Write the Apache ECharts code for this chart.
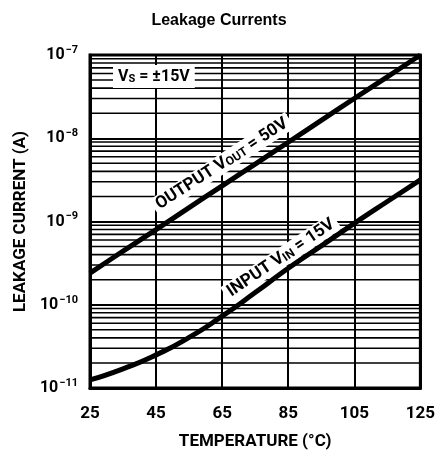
<!DOCTYPE html>
<html>
<head>
<meta charset="utf-8">
<script src="https://cdn.jsdelivr.net/npm/echarts@6/dist/echarts.min.js"></script>
<style>
  html, body { margin: 0; padding: 0; background: #fff; }
  #main { width: 438px; height: 456px; }
</style>
</head>
<body>
<div id="main"></div>
<script>
// temperature (°C)
const temps = [25, 35, 45, 55, 65, 75, 85, 95, 105, 115, 125];
// leakage current (A)
const outputLeak = [2.4e-10, 4.4e-10, 8.0e-10, 1.47e-9, 2.68e-9, 4.9e-9, 8.95e-9, 1.64e-8, 3.0e-8, 5.47e-8, 1.0e-7];
const inputLeak = [1.25e-11, 1.7e-11, 2.5e-11, 4.05e-11, 7.3e-11, 1.4e-10, 2.75e-10, 5.1e-10, 9.5e-10, 1.74e-9, 3.16e-9];
const xTicks = [25, 45, 65, 85, 105, 125];
const yDecades = [-11, -10, -9, -8, -7];

const font = 'Roboto, "DejaVu Sans", sans-serif';

// log grid lines for 2..9 in every decade
let minorLines = [];
for (let d = yDecades[0]; d < yDecades[yDecades.length - 1]; d++) {
  for (let m = 2; m <= 9; m++) {
    minorLines.push(m * Math.pow(10, d));
  }
}

let myChart = echarts.init(document.getElementById('main'));
let option = {
  backgroundColor: '#fff',
  animation: false,
  title: {
    text: 'Leakage Currents',
    left: 'center',
    top: 8,
    textStyle: { fontFamily: 'Arial, "Liberation Sans", sans-serif', fontSize: 16, fontWeight: 'bold', color: '#000' }
  },
  grid: { left: 90, right: 10, top: 55, bottom: 68, show: true, borderColor: '#000', borderWidth: 3 },
  xAxis: {
    type: 'value',
    min: xTicks[0],
    max: xTicks[xTicks.length - 1],
    interval: 20,
    name: 'TEMPERATURE (°C)',
    nameLocation: 'middle',
    nameGap: 45,
    nameTextStyle: { fontFamily: font, fontSize: 17, fontWeight: 'bold', color: '#000' },
    axisLine: { show: true, lineStyle: { color: '#000', width: 3 } },
    axisTick: { show: false },
    axisLabel: { margin: 17, fontFamily: font, fontSize: 17, fontWeight: 'bold', color: '#000' },
    splitLine: { show: true, lineStyle: { color: '#000', width: 2 } }
  },
  yAxis: {
    type: 'log',
    logBase: 10,
    min: Math.pow(10, yDecades[0]),
    max: Math.pow(10, yDecades[yDecades.length - 1]),
    name: 'LEAKAGE CURRENT (A)',
    nameLocation: 'middle',
    nameGap: 58,
    nameTextStyle: { fontFamily: font, fontSize: 17, fontWeight: 'bold', color: '#000' },
    axisLine: { show: true, lineStyle: { color: '#000', width: 3 } },
    axisTick: { show: false },
    axisLabel: {
      margin: 12,
      formatter: function (v) {
        return '{b|10}{s|−' + Math.abs(Math.round(Math.log10(v))) + '}';
      },
      rich: {
        b: { fontFamily: font, fontSize: 16, fontWeight: 'bold', color: '#000' },
        s: { fontFamily: font, fontSize: 11, fontWeight: 'bold', color: '#000', verticalAlign: 'top', padding: [0, 0, 10, 1] }
      }
    },
    splitLine: { show: true, lineStyle: { color: '#000', width: 2 } }
  },
  series: [
    {
      name: 'minor grid',
      type: 'custom',
      silent: true,
      z: 1,
      data: minorLines,
      encode: { y: 0 },
      renderItem: function (params, api) {
        const v = api.value(0);
        const p1 = api.coord([xTicks[0], v]);
        const p2 = api.coord([xTicks[xTicks.length - 1], v]);
        return {
          type: 'line',
          shape: { x1: p1[0], y1: p1[1], x2: p2[0], y2: p2[1] },
          style: { stroke: '#000', lineWidth: 1.6 }
        };
      }
    },
    {
      name: 'OUTPUT',
      type: 'line',
      smooth: 0.4,
      symbol: 'none',
      data: temps.map((t, i) => [t, outputLeak[i]]),
      lineStyle: { color: '#000', width: 5 },
      z: 5
    },
    {
      name: 'INPUT',
      type: 'line',
      smooth: 0.6,
      symbol: 'none',
      data: temps.map((t, i) => [t, inputLeak[i]]),
      lineStyle: { color: '#000', width: 5 },
      z: 5
    }
  ],
  graphic: [
    {
      type: 'text',
      left: 113,
      top: 65,
      z: 10,
      style: {
        text: '{a|V}{sub|S}{a| = ±15V}',
        backgroundColor: '#fff',
        padding: [3, 5, 3, 5],
        rich: {
          a: { fontFamily: font, fontSize: 16, fontWeight: 'bold', fill: '#000' },
          sub: { fontFamily: font, fontSize: 11, fontWeight: 'bold', fill: '#000', verticalAlign: 'bottom', padding: [6, 0, 0, 0] }
        }
      }
    },
    {
      type: 'text',
      x: 222,
      y: 164,
      rotation: 33 * Math.PI / 180,
      z: 10,
      style: {
        text: '{a|OUTPUT V}{sub|OUT}{a| = 50V}',
        align: 'center',
        verticalAlign: 'middle',
        backgroundColor: '#fff',
        padding: [1, 4, 1, 4],
        rich: {
          a: { fontFamily: font, fontSize: 17, fontWeight: 'bold', fill: '#000' },
          sub: { fontFamily: font, fontSize: 12, fontWeight: 'bold', fill: '#000', verticalAlign: 'bottom', padding: [5, 0, 0, 0] }
        }
      }
    },
    {
      type: 'text',
      x: 281,
      y: 258,
      rotation: 34 * Math.PI / 180,
      z: 10,
      style: {
        text: '{a|INPUT V}{sub|IN}{a| = 15V}',
        align: 'center',
        verticalAlign: 'middle',
        backgroundColor: '#fff',
        padding: [1, 4, 1, 4],
        rich: {
          a: { fontFamily: font, fontSize: 17, fontWeight: 'bold', fill: '#000' },
          sub: { fontFamily: font, fontSize: 12, fontWeight: 'bold', fill: '#000', verticalAlign: 'bottom', padding: [5, 0, 0, 0] }
        }
      }
    }
  ]
};
myChart.setOption(option);
</script>
</body>
</html>
